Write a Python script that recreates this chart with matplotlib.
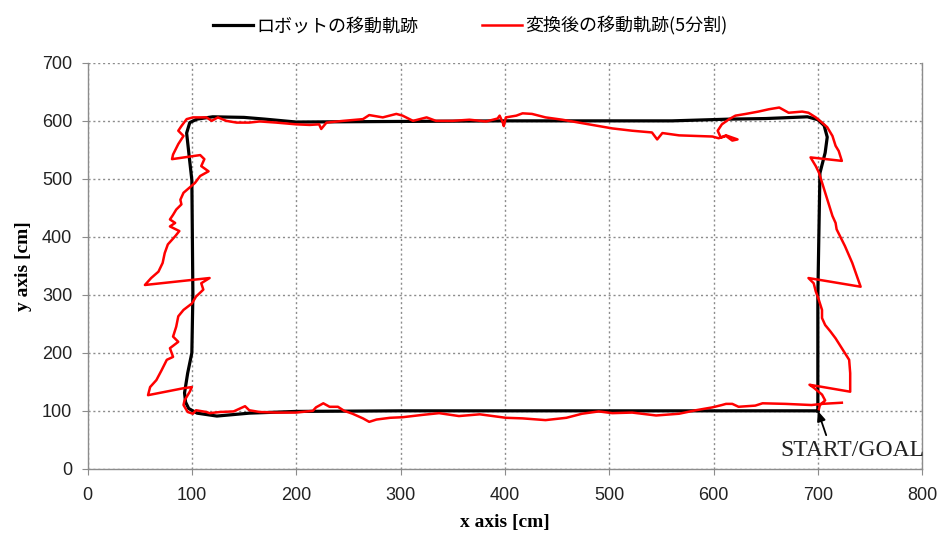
import matplotlib.pyplot as plt
import numpy as np

# Robot path (black)
robot_x = [700, 700, 702, 707, 709, 706, 700, 690, 650, 615, 560, 400, 200, 170,
           150, 120, 105, 98, 95, 98, 100, 101, 100, 96, 93, 94, 97, 105, 124,
           155, 200, 300, 500, 700]
robot_y = [100, 300, 510, 545, 572, 592, 602, 607, 604, 603, 600, 600, 598, 603,
           606, 607, 603, 597, 579, 530, 498, 300, 200, 165, 131, 115, 104, 96, 91,
           96, 99, 100, 100, 100]

# Transformed path, 5 segments (red)
red_x = [701, 702, 707, 704, 696, 692, 731, 731, 730, 723, 717, 712, 707, 704, 704,
         701, 698, 696, 691, 741, 733, 726, 723, 718, 717, 714, 710, 707, 704, 701,
         698, 693, 723, 720, 717, 714, 709, 704, 698, 691, 685, 672, 663, 653, 643,
         631, 621, 615, 608, 604, 607, 612, 618, 623, 612, 605, 599, 583, 567, 551,
         546, 541, 522, 503, 490, 471, 455, 439, 426, 417, 411, 401, 399, 398, 395,
         393, 382, 366, 350, 334, 325, 312, 302, 296, 283, 270, 264, 245, 229, 224,
         222, 213, 200, 181, 165, 155, 143, 133, 125, 119, 114, 101, 95, 90, 87, 92,
         87, 82, 81, 108, 112, 109, 116, 108, 103, 92, 89, 90, 85, 82, 79, 84, 79,
         88, 84, 77, 74, 72, 68, 61, 55, 117, 109, 111, 104, 100, 92, 87, 85, 82, 87,
         79, 82, 76, 71, 66, 60, 58, 92, 100, 98, 96, 93, 92, 96, 101, 104, 114, 117,
         127, 140, 151, 155, 165, 181, 200, 216, 219, 226, 232, 240, 246, 254, 264,
         270, 277, 290, 302, 321, 337, 356, 376, 401, 417, 439, 459, 474, 490, 503,
         522, 545, 567, 583, 599, 608, 612, 618, 624, 640, 647, 669, 694, 704, 723]
red_y = [103, 110, 118, 128, 140, 145, 133, 165, 188, 208, 225, 237, 248, 260, 274,
         291, 306, 320, 329, 314, 355, 384, 395, 413, 424, 436, 459, 476, 493, 511,
         522, 537, 531, 548, 557, 574, 589, 597, 606, 614, 616, 614, 623, 620, 616,
         612, 609, 603, 594, 583, 571, 574, 566, 568, 575, 570, 573, 574, 575, 579,
         568, 580, 583, 587, 591, 597, 602, 606, 612, 613, 609, 606, 591, 597, 609,
         604, 599, 602, 600, 600, 606, 600, 609, 612, 606, 610, 603, 600, 597, 586,
         594, 593, 594, 597, 599, 597, 597, 600, 606, 600, 606, 606, 603, 591, 583,
         574, 560, 542, 534, 541, 534, 522, 513, 505, 493, 476, 464, 456, 447, 438,
         430, 424, 418, 410, 401, 387, 372, 355, 340, 329, 317, 329, 320, 309, 297,
         285, 274, 263, 245, 228, 219, 208, 193, 188, 170, 153, 141, 127, 139, 141,
         133, 127, 118, 110, 98, 95, 101, 98, 96, 98, 99, 108, 101, 98, 97, 97, 100,
         106, 113, 107, 107, 100, 95, 87, 81, 85, 88, 89, 93, 96, 91, 94, 88, 87, 84,
         88, 95, 99, 96, 97, 92, 95, 101, 106, 110, 112, 112, 107, 109, 113, 112, 110,
         112, 114]

x_ticks = np.arange(0, 801, 100)
y_ticks = np.arange(0, 701, 100)

plt.rcParams['font.family'] = ['Noto Sans CJK JP', 'DejaVu Sans']

fig = plt.figure(figsize=(9.41, 5.42), dpi=100)
ax = fig.add_axes([0.093, 0.135, 0.887, 0.749])

line1, = ax.plot(robot_x, robot_y, color='black', lw=2.3, label='ロボットの移動軌跡')
line2, = ax.plot(red_x, red_y, color='#ff0000', lw=1.8, label='変換後の移動軌跡(5分割)')

ax.set_xlim(0, 800)
ax.set_ylim(0, 700)
ax.set_xticks(x_ticks)
ax.set_yticks(y_ticks)
ax.grid(True, color='#8c8c8c', linestyle=(0, (1.5, 2)), linewidth=1)
ax.set_axisbelow(True)
for s in ax.spines.values():
    s.set_color('#8c8c8c')
    s.set_linewidth(1)
ax.spines['top'].set_visible(False)
ax.tick_params(colors='#8c8c8c', length=4, labelcolor='#222222')
for lab in ax.get_xticklabels() + ax.get_yticklabels():
    lab.set_family('Liberation Sans')
    lab.set_fontsize(13)
ax.tick_params(axis='x', pad=9)
ax.tick_params(axis='y', pad=7)

ax.set_xlabel('x axis [cm]', family='Liberation Serif', fontweight='bold', fontsize=14, labelpad=7)
ax.set_ylabel('y axis [cm]', family='Liberation Serif', fontweight='bold', fontsize=14, labelpad=7)

# arrow to the start point, label below it
ax.annotate('', xy=(700, 100), xytext=(708, 58),
            arrowprops=dict(arrowstyle='-|>,head_length=0.6,head_width=0.25',
                            color='black', lw=1.3, shrinkA=0, shrinkB=0))
ax.text(733, 32, 'START/GOAL', ha='center', va='center',
        family='Liberation Serif', fontsize=17, color='#222222')

fig.legend(handles=[line1, line2], loc='upper center', bbox_to_anchor=(0.5, 1.0),
           ncol=2, frameon=False, fontsize=13, handlelength=2.2, handletextpad=0.2,
           columnspacing=3.5)

fig.savefig('out.png', dpi=100)
